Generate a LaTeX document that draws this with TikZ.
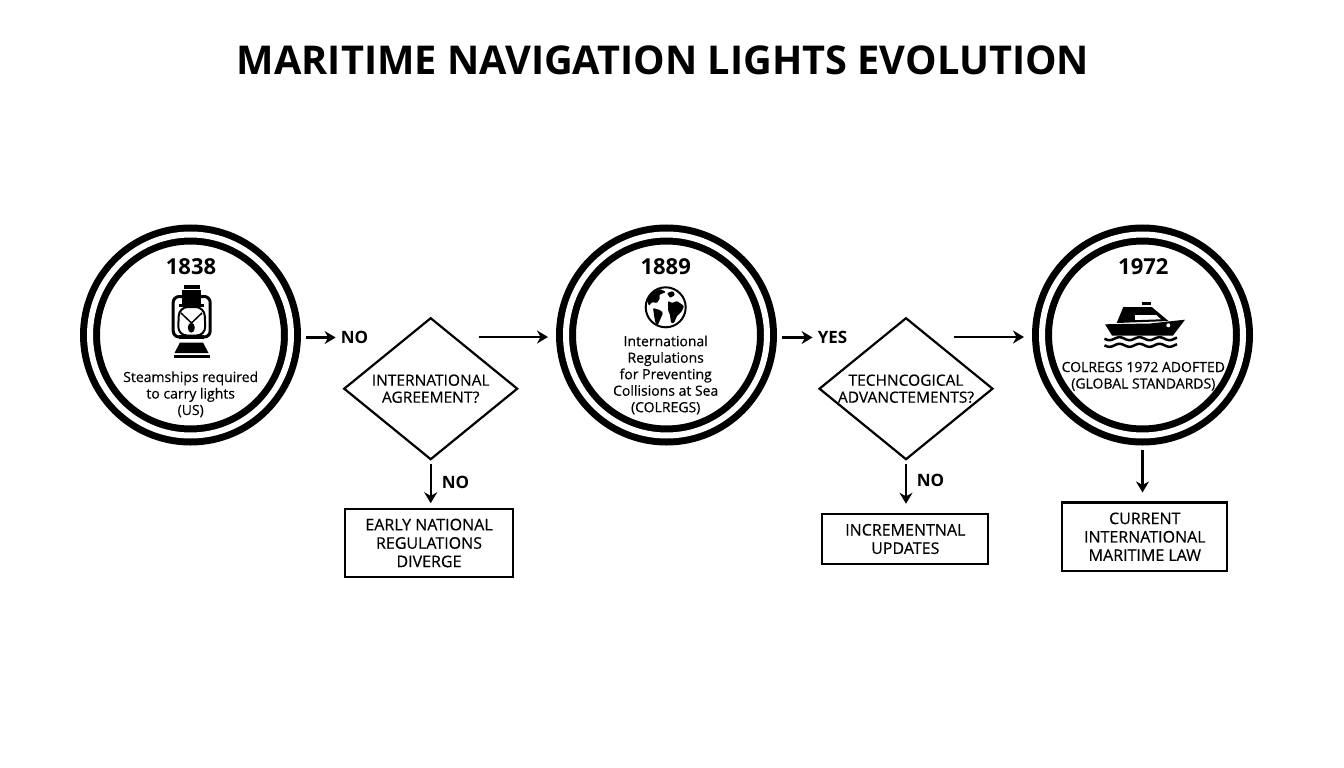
\documentclass[tikz,border=0pt]{standalone}
\usepackage{fontspec}
\setmainfont{Open Sans}
\newfontfamily\medfont[FakeBold=0.4]{Open Sans}
\usetikzlibrary{arrows.meta,positioning,shapes.geometric}

\begin{document}
\begin{tikzpicture}[x=1pt,y=-1pt,>={Stealth[length=11pt,width=13pt]},
						ring/.style={
							circle,
							draw=black, line width=7pt,
							double=white, double distance=6pt,
							minimum size=201pt,
							inner sep=0pt, outer sep=10pt
						},
						decision/.style={
							diamond,
							draw=black, line width=2.2pt,
							shape aspect=1.23,
							minimum width=173pt,
							minimum height=141pt,
							inner sep=0pt, outer sep=0pt,
							align=center,
							font=\medfont\fontsize{15.5}{17}\selectfont
						},
						outcome/.style={
							rectangle,
							draw=black, line width=2.2pt,
							inner sep=0pt, outer sep=0pt,
							align=center,
							font=\medfont\fontsize{16}{18.4}\selectfont
						},
						yeartext/.style={font=\bfseries\fontsize{22}{24}\selectfont},
						bodytext/.style={align=center, inner sep=0pt, font=\medfont\fontsize{14}{16.5}\selectfont},
						answer/.style={inner sep=0pt, font=\bfseries\fontsize{17}{19}\selectfont},
						flow/.style={->, line width=2.2pt},
						iconline/.style={draw=black, line join=round},
						iconfill/.style={fill=black, draw=none}]

	\useasboundingbox (0,0) rectangle (1344,768);

	% Title
	\node [font=\bfseries\fontsize{39.7}{44}\selectfont] (title) at (663,60.5) {MARITIME NAVIGATION LIGHTS EVOLUTION};

	%% The three rings along the timeline
	\node [ring] (steamships) at (190.5,335) {};
	\node [ring, right=255pt of steamships] (regulations) {};
	\node [ring, right=255pt of regulations] (adopted) {};

	% Decision nodes
	\node [decision] (agreement) at (430.7,388.7) {INTERNATIONAL\\AGREEMENT?};
	\node [decision] (advancements) at (906,388.7) {TECHNCOGICAL\\ADVANCTEMENTS?};

	% Outcome boxes
	\node [outcome, minimum width=168pt, minimum height=67.5pt] (early) at (429,543) {EARLY NATIONAL\\REGULATIONS\\DIVERGE};
	\node [outcome, minimum width=166pt, minimum height=50.5pt] (incremental) at (905.3,539) {INCREMENTNAL\\UPDATES};
	\node [outcome, minimum width=165pt, minimum height=68.5pt] (current) at (1144.8,536.7) {CURRENT\\INTERNATIONAL\\MARITIME LAW};

	% Ring texts
	\node [yeartext] (yearA) at (191,266.7) {1838};
	\node [yeartext] (yearB) at (665.7,266.7) {1889};
	\node [yeartext] (yearC) at (1143.3,266.7) {1972};
	\node [bodytext] (textA) at (190.7,394.3) {Steamships required\\to carry lights\\(US)};
	\node [bodytext] (textB) at (665.7,375) {International\\Regulations\\for Preventing\\Collisions at Sea\\(COLREGS)};
	\node [bodytext] (textC) at (1143.3,376.3) {COLREGS 1972 ADOFTED\\(GLOBAL STANDARDS)};

	% Answers on the arrows
	\node [answer] (noA) at (354.5,337.5) {NO};
	\node [answer] (yesA) at (832.5,337.5) {YES};
	\node [answer] (noB) at (455.5,482.7) {NO};
	\node [answer] (noC) at (930.5,480) {NO};

	\coordinate (agreementOut) at (478.7,337);
	\coordinate (advancementsOut) at (954.3,337);

	%% Arrows
	\draw [flow, shorten <=4.5pt, shorten >=5pt] (steamships.east |- noA) -- (noA);
	\draw [flow, shorten >=8pt] (agreementOut) -- (regulations.west |- agreementOut);
	\draw [flow, shorten <=4.5pt, shorten >=5pt] (regulations.east |- yesA) -- (yesA);
	\draw [flow, shorten >=8pt] (advancementsOut) -- (adopted.west |- advancementsOut);
	\draw [flow, shorten <=4.5pt, shorten >=6pt] (agreement.south) -- (agreement.south |- early.north);
	\draw [flow, shorten <=4.5pt, shorten >=10pt] (advancements.south) -- (advancements.south |- incremental.north);
	\draw [flow, shorten <=4.5pt, shorten >=10pt] (adopted.south) -- (adopted.south |- current.north);

	%% Lantern
	\draw [iconline, line width=3pt, rounded corners=6pt] (184,296.5) -- (173.2,296.5) -- (173.2,337) -- (181,337);
	\draw [iconline, line width=3pt, rounded corners=6pt] (200,296.5) -- (210.2,296.5) -- (210.2,337) -- (202,337);
	\draw [iconfill] (183.5,285) rectangle (200,289);
	\draw [iconfill] (182.3,290) rectangle (201,303.5);
	\draw [iconfill] (179,304.3) rectangle (203.5,306.7);
	\draw [iconline, line width=2pt, fill=white, rounded corners=9pt] (179,307) -- (204.5,307) -- (205.5,335.5) -- (178,335.5) -- cycle;
	\draw [iconline, line width=1.5pt] (181,313) -- (191.5,323) -- (202,313);
	\draw [iconfill] (191.3,327.7) ellipse [x radius=3.5, y radius=5];
	\draw [iconfill] (179,335) rectangle (204,338.5);
	\draw [iconfill] (180,342.5) -- (203,342.5) -- (208.5,353) -- (174.5,353) -- cycle;
	\draw [iconfill] (173.5,354.5) rectangle (210,358);

	%% Globe
	\draw [iconline, line width=2pt, fill=white] (665.7,307.3) circle [radius=20];
	\begin{scope}[shift={(665,308)}]
		\clip (0.7,-0.7) circle [radius=20];
		\draw [iconfill, rounded corners=1pt] (-18,-8) -- (-13,-15) -- (-5,-19) -- (1,-16) -- (-6,-13) -- (-5,-10) -- (-8,-5) -- (-13,-6) -- (-16,-2) -- cycle;
		\draw [iconfill, rounded corners=1pt] (-12,0) -- (-5,2) -- (-2,5) -- (-5,12) -- (-8,19) -- (-10,13) -- (-11,7) -- cycle;
		\draw [iconfill, rounded corners=1pt] (3,-7) -- (7,-5) -- (12,-7) -- (19,-2) -- (17,3) -- (12,8) -- (9,15) -- (6,15) -- (5,7) -- (3,2) -- cycle;
		\draw [iconfill, rounded corners=1pt] (2,-15) -- (8,-17) -- (10,-13) -- (5,-10) -- cycle;
	\end{scope}

	%% Ship
	\draw [iconfill] (1141.7,302) rectangle (1151,305.3);
	\draw [iconfill] (1116.7,323) -- (1123.3,307) -- (1151.7,307) -- (1168.5,321) -- cycle;
	\draw [iconline, line width=1.5pt, fill=white] (1134,314) -- (1156.5,314) -- (1163,320) -- (1134,321) -- cycle;
	\draw [iconfill] (1105,324.3) -- (1150,323.5) -- (1185,319.7) -- (1173,335.5) -- (1112,335.5) -- cycle;
	\draw [fill=white, draw=none] (1168.3,325.3) circle [radius=2];
	\foreach \waveY in {338.7,345.3}
		\draw [iconline, line width=2.5pt] plot [domain=1104.5:1177, samples=70] (\x,{\waveY+1.5*sin(18*(\x-1104.5))});
\end{tikzpicture}
\end{document}
